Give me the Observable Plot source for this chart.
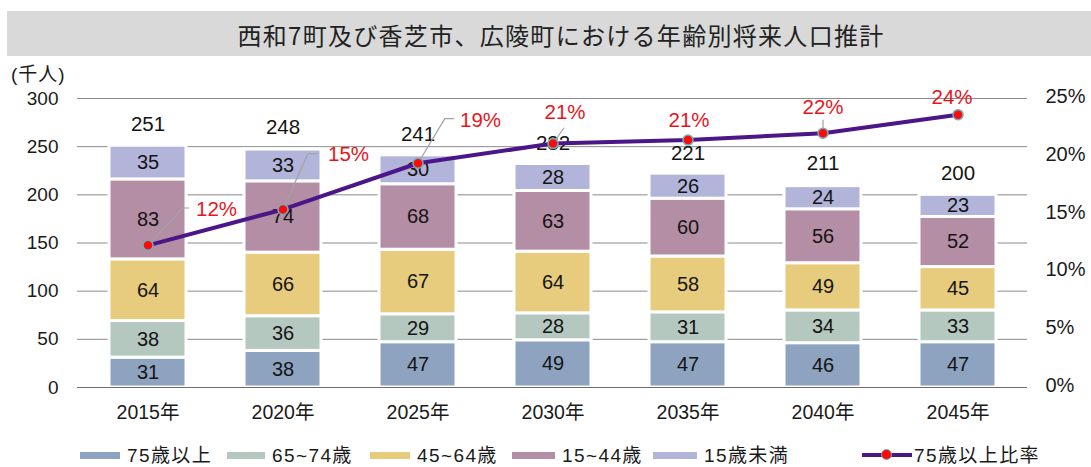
<!DOCTYPE html>
<html>
<head>
<meta charset="utf-8">
<script src="https://cdn.jsdelivr.net/npm/d3@7"></script>
<script src="https://cdn.jsdelivr.net/npm/@observablehq/plot@0.6"></script>
<style>
  html, body { margin: 0; padding: 0; background: #ffffff; }
  #wrap { position: relative; width: 1091px; height: 467px; overflow: hidden; background: #ffffff;
          font-family: "Liberation Sans", "Noto Sans CJK JP", sans-serif; color: #1a1a1a; }
  #title { position: absolute; left: 7px; top: 11px; width: 1084px; height: 45px; background: #d9d9d9;
           font-family: "Noto Sans CJK JP", sans-serif; font-size: 24px; letter-spacing: 1.3px;
           line-height: 48px; text-align: center; box-sizing: border-box; padding-left: 24px; color: #222; }
  #unit { position: absolute; left: 11px; top: 63px; font-size: 19px; line-height: 24px; letter-spacing: 1px;
          font-family: "Liberation Sans", "Noto Sans CJK JP", sans-serif; }
  #chart { position: absolute; left: 0; top: 0; }
  .lg { position: absolute; top: 445px; height: 22px; font-size: 19px; line-height: 22px; letter-spacing: 1.4px; white-space: nowrap; }
  .sw { position: absolute; height: 7px; top: 452px; }
</style>
</head>
<body>
<div id="wrap">
  <div id="chart"></div>
  <div id="title">西和7町及び香芝市、広陵町における年齢別将来人口推計</div>
  <div id="unit">(千人)</div>
</div>
<script>
// ---- data ----
const years = ["2015年", "2020年", "2025年", "2030年", "2035年", "2040年", "2045年"];
const groups = ["75歳以上", "65~74歳", "45~64歳", "15~44歳", "15歳未満"];
const age75plus = [31, 38, 47, 49, 47, 46, 47];
const age65to74 = [38, 36, 29, 28, 31, 34, 33];
const age45to64 = [64, 66, 67, 64, 58, 49, 45];
const age15to44 = [83, 74, 68, 63, 60, 56, 52];
const under15   = [35, 33, 30, 28, 26, 24, 23];
const totals    = [251, 248, 241, 232, 221, 211, 200];
const ratio75   = [12.3, 15.4, 19.4, 21.1, 21.4, 22.0, 23.6];
const ratioLabels = ["12%", "15%", "19%", "21%", "21%", "22%", "24%"];
const ratioName = "75歳以上比率";
const yTicks = [0, 50, 100, 150, 200, 250, 300];
const pctTicks = [0, 5, 10, 15, 20, 25];

// ---- styles / layout ----
const colors = ["#8ea3c0", "#b5c8bf", "#e7cc7e", "#b48ea4", "#b2b4d9"];
const purple = "#4b1687";
const red = "#e8141c";
const pctToY = 300 / 25;
const labelLayout = [
  {dx: 48, dy: -36, anchor: "start"},
  {dx: 45, dy: -55, anchor: "start"},
  {dx: 42, dy: -43, anchor: "start"},
  {dx: 12, dy: -31, anchor: "middle"},
  {dx: 1, dy: -20, anchor: "middle"},
  {dx: 0, dy: -26, anchor: "middle"},
  {dx: -6, dy: -17, anchor: "middle"}
];
const leaderLayout = [
  {len: 51, angle: 43, tail: 6},
  {len: 61, angle: 24, tail: 10},
  {len: 52, angle: 31, tail: 9},
  {len: 19, angle: 35, tail: 0},
  null,
  {len: 13, angle: 0, tail: 0},
  null
];
const legendLeft = [80, 227, 370, 512, 653];
const legendSwatchW = [40, 38, 40, 43, 44];

// ---- tables built from arrays ----
const series = [age75plus, age65to74, age45to64, age15to44, under15];
const stacked = years.flatMap((yr, i) => groups.map((g, j) => ({year: yr, group: g, value: series[j][i]})));
const ratioData = years.map((yr, i) => ({year: yr, pct: ratio75[i], label: ratioLabels[i], total: totals[i]}));

const lineShape = {draw(context, l) { context.moveTo(0, 0); context.lineTo(0, -l); }};

const leaderMarks = [];
const labelMarks = [];
ratioData.forEach((d, i) => {
  const L = leaderLayout[i];
  if (L) {
    leaderMarks.push(Plot.vector([d], {x: "year", y: r => r.pct * pctToY, length: L.len, rotate: L.angle,
      anchor: "start", shape: lineShape, stroke: "#a3a3a3", strokeWidth: 1.2}));
    if (L.tail > 0) {
      const rad = L.angle * Math.PI / 180;
      leaderMarks.push(Plot.vector([d], {x: "year", y: r => r.pct * pctToY, length: L.tail, rotate: 90,
        anchor: "start", shape: lineShape, stroke: "#a3a3a3", strokeWidth: 1.2,
        dx: L.len * Math.sin(rad), dy: -L.len * Math.cos(rad)}));
    }
  }
  const T = labelLayout[i];
  labelMarks.push(Plot.text([d], {x: "year", y: r => r.pct * pctToY, text: "label", dx: T.dx, dy: T.dy,
    textAnchor: T.anchor, fill: red, fontSize: 20.5}));
});

const chart = Plot.plot({
  width: 1091,
  height: 467,
  marginTop: 98,
  marginBottom: 80,
  marginLeft: 77,
  marginRight: 64,
  style: {fontFamily: '"Liberation Sans", "Noto Sans CJK JP", sans-serif', fontSize: "19px", background: "transparent", color: "#1a1a1a"},
  x: {domain: years, paddingInner: 0.432, paddingOuter: 0.2175, axis: null},
  y: {domain: [0, 300], axis: null},
  color: {domain: groups, range: colors},
  marks: [
    Plot.ruleY(yTicks, {stroke: "#8a8a8a", strokeWidth: 1}),
    Plot.barY(stacked, Plot.stackY({x: "year", y: "value", fill: "group", order: groups,
      stroke: "#ffffff", strokeWidth: 3})),
    Plot.ruleY([0], {stroke: "#6e6e6e", strokeWidth: 1.2}),
    Plot.text(stacked, Plot.stackY({x: "year", y: "value", z: "group", order: groups, text: "value",
      fontSize: 20, fill: "#141414"})),
    Plot.text(ratioData, {x: "year", y: "total", text: "total", dy: -21, fontSize: 20.5, fill: "#141414"}),
    Plot.axisX({domain: years, tickSize: 0, tickPadding: 18, fontSize: 19.5, label: null}),
    Plot.axisY({anchor: "left", ticks: yTicks, tickSize: 0, tickPadding: 19, fontSize: 19, label: null}),
    Plot.axisY({anchor: "right", ticks: pctTicks.map(p => p * pctToY), tickFormat: d => `${Math.round(d / pctToY)}%`,
      tickSize: 0, tickPadding: 18, fontSize: 20, label: null, dy: -2}),
    ...leaderMarks,
    Plot.line(ratioData, {x: "year", y: d => d.pct * pctToY, stroke: purple, strokeWidth: 4, curve: "linear"}),
    Plot.dot(ratioData, {x: "year", y: d => d.pct * pctToY, r: 5, fill: "#ff0a0a", stroke: "#6fb0b6", strokeWidth: 1.5}),
    ...labelMarks
  ]
});
document.getElementById("chart").appendChild(chart);

// ---- legend (HTML, below the plot area) ----
const wrap = document.getElementById("wrap");
groups.forEach((g, j) => {
  const sw = document.createElement("div");
  sw.className = "sw";
  sw.style.left = legendLeft[j] + "px";
  sw.style.width = legendSwatchW[j] + "px";
  sw.style.background = colors[j];
  wrap.appendChild(sw);
  const t = document.createElement("div");
  t.className = "lg";
  t.style.left = (legendLeft[j] + legendSwatchW[j] + 7) + "px";
  t.textContent = g;
  wrap.appendChild(t);
});
{
  const ln = document.createElement("div");
  ln.style.cssText = `position:absolute;left:862px;top:453px;width:50px;height:4px;background:${purple};`;
  wrap.appendChild(ln);
  const dt = document.createElement("div");
  dt.style.cssText = `position:absolute;left:881px;top:449px;width:11px;height:11px;border-radius:50%;background:#ff0a0a;border:1.5px solid #6fb0b6;box-sizing:border-box;`;
  wrap.appendChild(dt);
  const t = document.createElement("div");
  t.className = "lg";
  t.style.left = "914px";
  t.textContent = ratioName;
  wrap.appendChild(t);
}
</script>
</body>
</html>
